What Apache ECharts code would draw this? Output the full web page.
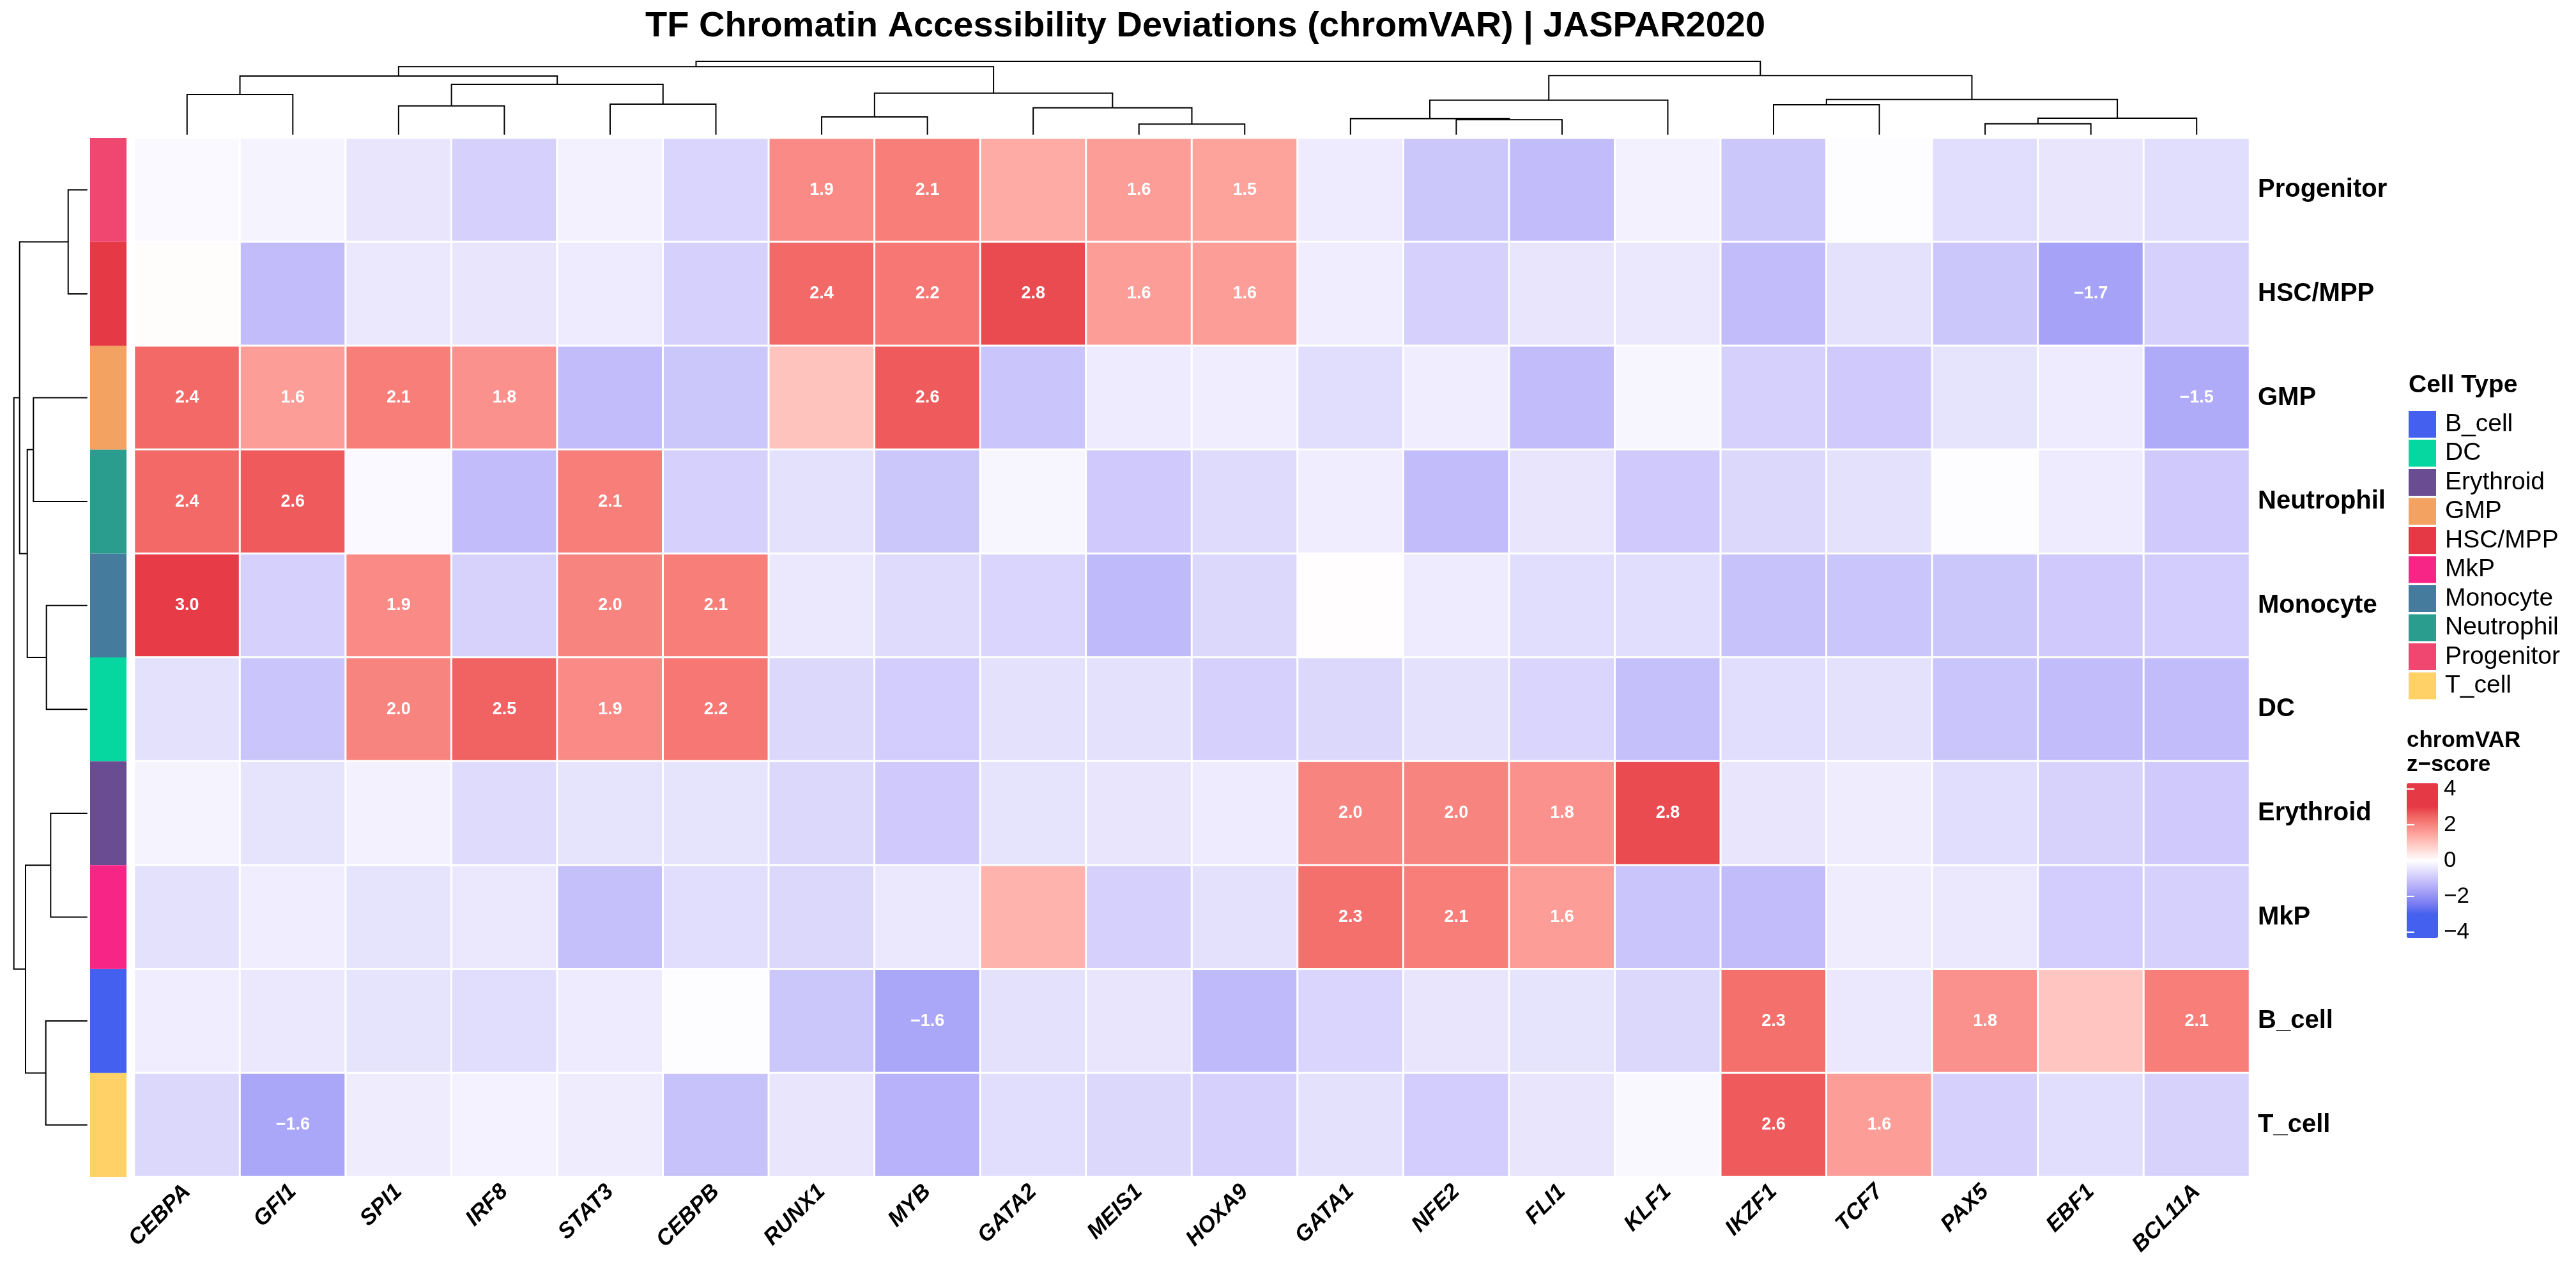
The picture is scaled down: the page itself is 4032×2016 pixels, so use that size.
<!DOCTYPE html>
<html>
<head>
<meta charset="utf-8">
<title>TF Chromatin Accessibility Deviations</title>
<script src="https://cdn.jsdelivr.net/npm/echarts@6/dist/echarts.min.js"></script>
<style>
  html, body { margin: 0; padding: 0; background: #fff; }
  #chart { width: 4032px; height: 2016px; }
</style>
</head>
<body>
<div id="chart"></div>
<script>
// column order (after clustering) and row order
const tfNames = ['CEBPA', 'GFI1', 'SPI1', 'IRF8', 'STAT3', 'CEBPB', 'RUNX1', 'MYB', 'GATA2', 'MEIS1',
                 'HOXA9', 'GATA1', 'NFE2', 'FLI1', 'KLF1', 'IKZF1', 'TCF7', 'PAX5', 'EBF1', 'BCL11A'];
const cellRows = ['Progenitor', 'HSC/MPP', 'GMP', 'Neutrophil', 'Monocyte', 'DC', 'Erythroid', 'MkP', 'B_cell', 'T_cell'];

// chromVAR z-scores, one array per cell type, same order as tfNames
const progenitor = [-0.1, -0.2, -0.45, -0.85, -0.25, -0.75, 1.9, 2.1, 1.38, 1.6, 1.52, -0.35, -1.0, -1.2, -0.25, -1.0, -0.05, -0.6, -0.45, -0.6];
const hscMpp     = [0.05, -1.2, -0.4, -0.45, -0.35, -0.85, 2.4, 2.2, 2.8, 1.6, 1.6, -0.3, -0.85, -0.45, -0.4, -1.2, -0.55, -1.0, -1.7, -0.85];
const gmp        = [2.4, 1.6, 2.1, 1.8, -1.2, -1.0, 1.0, 2.6, -1.05, -0.35, -0.3, -0.6, -0.3, -1.2, -0.15, -0.85, -0.95, -0.5, -0.35, -1.52];
const neutrophil = [2.4, 2.6, -0.1, -1.2, 2.1, -0.85, -0.55, -1.0, -0.15, -0.95, -0.65, -0.3, -1.2, -0.45, -0.95, -0.7, -0.55, -0.05, -0.35, -0.95];
const monocyte   = [3.0, -0.85, 1.9, -0.8, 2.0, 2.1, -0.4, -0.65, -0.75, -1.25, -0.7, 0.03, -0.35, -0.6, -0.6, -1.1, -1.05, -1.0, -0.95, -0.9];
const dc         = [-0.55, -1.05, 2.0, 2.5, 1.9, 2.2, -0.7, -0.9, -0.55, -0.55, -0.85, -0.7, -0.55, -0.75, -1.15, -0.6, -0.55, -1.05, -1.2, -1.2];
const erythroid  = [-0.2, -0.5, -0.25, -0.65, -0.5, -0.5, -0.7, -0.95, -0.5, -0.45, -0.35, 2.0, 2.0, 1.8, 2.8, -0.45, -0.33, -0.6, -0.8, -0.95];
const mkp        = [-0.55, -0.3, -0.5, -0.4, -1.15, -0.6, -0.7, -0.4, 1.25, -0.85, -0.55, 2.3, 2.1, 1.6, -1.05, -1.2, -0.33, -0.4, -0.9, -0.85];
const bCell      = [-0.3, -0.4, -0.5, -0.6, -0.35, -0.03, -1.0, -1.6, -0.55, -0.45, -1.25, -0.75, -0.45, -0.5, -0.7, 2.3, -0.4, 1.8, 0.95, 2.1];
const tCell      = [-0.7, -1.6, -0.33, -0.22, -0.33, -1.1, -0.45, -1.4, -0.6, -0.7, -0.85, -0.55, -0.9, -0.45, -0.12, 2.6, 1.6, -0.85, -0.6, -0.8];
const zRows = [progenitor, hscMpp, gmp, neutrophil, monocyte, dc, erythroid, mkp, bCell, tCell];

// hclust-style merges: negative = leaf (1-based display position), positive = earlier merge; third = height
const colMerges = [
  [-1, -2, 6.27], [-3, -4, 4.50], [-5, -6, 4.77], [2, 3, 7.87], [1, 4, 9.17],
  [-7, -8, 2.77], [-10, -11, 1.64], [-9, 7, 4.20], [6, 8, 6.50], [5, 9, 10.64],
  [-13, -14, 2.34], [-12, 11, 2.50], [12, -15, 5.40], [-16, -17, 4.67], [-18, -19, 1.70],
  [15, -20, 2.57], [14, 16, 5.50], [13, 17, 9.24], [10, 18, 11.47]
];
const rowMerges = [
  [-1, -2, 3.00], [-3, -4, 8.44], [-5, -6, 6.40], [2, 3, 9.40], [1, 4, 10.60],
  [-7, -8, 5.74], [-9, -10, 6.50], [6, 7, 9.67], [5, 8, 11.50]
];

// annotation legend
const legendOrder = ['B_cell', 'DC', 'Erythroid', 'GMP', 'HSC/MPP', 'MkP', 'Monocyte', 'Neutrophil', 'Progenitor', 'T_cell'];
const cellColors = {
  'B_cell': '#4361EE', 'DC': '#06D6A0', 'Erythroid': '#6A4C93', 'GMP': '#F4A261', 'HSC/MPP': '#E63946',
  'MkP': '#F72585', 'Monocyte': '#457B9D', 'Neutrophil': '#2A9D8F', 'Progenitor': '#EF476F', 'T_cell': '#FFD166'
};
const scaleTicks = [-4, -2, 0, 2, 4];

const FONT = "'Liberation Sans', Arial, sans-serif";

// ---- colour ramp in LAB space (-3 blue, 0 white, 3 red) ----
function toLin(c) { c /= 255; return c <= 0.04045 ? c / 12.92 : Math.pow((c + 0.055) / 1.055, 2.4); }
function fromLin(c) {
  c = c <= 0.0031308 ? 12.92 * c : 1.055 * Math.pow(c, 1 / 2.4) - 0.055;
  return Math.round(Math.max(0, Math.min(1, c)) * 255);
}
function hexToLab(hex) {
  const r = toLin(parseInt(hex.substr(1, 2), 16));
  const g = toLin(parseInt(hex.substr(3, 2), 16));
  const b = toLin(parseInt(hex.substr(5, 2), 16));
  const X = (0.4124 * r + 0.3576 * g + 0.1805 * b) / 0.95047;
  const Y = (0.2126 * r + 0.7152 * g + 0.0722 * b);
  const Z = (0.0193 * r + 0.1192 * g + 0.9505 * b) / 1.08883;
  const f = t => t > 0.008856 ? Math.cbrt(t) : 7.787 * t + 16 / 116;
  return [116 * f(Y) - 16, 500 * (f(X) - f(Y)), 200 * (f(Y) - f(Z))];
}
function labToRgb(L, a, b) {
  const fy = (L + 16) / 116, fx = fy + a / 500, fz = fy - b / 200;
  const fi = t => t > 0.206893 ? t * t * t : (t - 16 / 116) / 7.787;
  const X = fi(fx) * 0.95047, Y = fi(fy), Z = fi(fz) * 1.08883;
  const r = 3.2406 * X - 1.5372 * Y - 0.4986 * Z;
  const g = -0.9689 * X + 1.8758 * Y + 0.0415 * Z;
  const bb = 0.0557 * X - 0.2040 * Y + 1.0570 * Z;
  return 'rgb(' + fromLin(r) + ',' + fromLin(g) + ',' + fromLin(bb) + ')';
}
const labLow = hexToLab('#4361EE'), labMid = hexToLab('#FFFFFF'), labHigh = hexToLab('#E63946');
function rampColor(v) {
  v = Math.max(-3, Math.min(3, v));
  const t = Math.abs(v) / 3, end = v < 0 ? labLow : labHigh;
  return labToRgb(labMid[0] + (end[0] - labMid[0]) * t, labMid[1] + (end[1] - labMid[1]) * t, labMid[2] + (end[2] - labMid[2]) * t);
}
const vmMin = -4.32, vmMax = 4.32;
const rampStops = [];
for (let i = 0; i <= 108; i++) rampStops.push(rampColor(vmMin + (vmMax - vmMin) * i / 108));

// ---- dendrogram segments from merges ----
function dendroSegments(merges) {
  const pos = [], hgt = [], segs = [];
  merges.forEach(function (m, k) {
    const pa = m[0] < 0 ? -m[0] - 0.5 : pos[m[0] - 1];
    const ha = m[0] < 0 ? 0 : hgt[m[0] - 1];
    const pb = m[1] < 0 ? -m[1] - 0.5 : pos[m[1] - 1];
    const hb = m[1] < 0 ? 0 : hgt[m[1] - 1];
    pos[k] = (pa + pb) / 2;
    hgt[k] = m[2];
    segs.push([[pa, ha], [pa, m[2]], [pb, m[2]], [pb, hb]]);
  });
  return segs;
}
const colSegs = dendroSegments(colMerges).map(s => ({ coords: s }));
const rowSegs = dendroSegments(rowMerges).map(s => ({ coords: s.map(p => [p[1], p[0]]) }));

const heatData = [];
zRows.forEach(function (vals, r) {
  vals.forEach(function (v, c) { heatData.push([c, r, v]); });
});

const annSeries = legendOrder.map(function (name) {
  return {
    name: name,
    type: 'bar',
    xAxisIndex: 1,
    yAxisIndex: 1,
    stack: 'ann',
    barWidth: '100%',
    silent: true,
    itemStyle: { color: cellColors[name] },
    data: cellRows.map(r => r === name ? 1 : '-')
  };
});

const minusFmt = v => (v < 0 ? '\u2212' : '') + Math.abs(v);

const chart = echarts.init(document.getElementById('chart'));
chart.setOption({
  backgroundColor: '#fff',
  animation: false,
  textStyle: { fontFamily: FONT },
  title: [
    { text: 'TF Chromatin Accessibility Deviations (chromVAR) | JASPAR2020', left: 1010, top: 14, padding: 0,
      textStyle: { fontSize: 56, fontWeight: 'bold', color: '#000', fontFamily: FONT } },
    { text: 'Cell Type', left: 3770, top: 584, padding: 0,
      textStyle: { fontSize: 39, fontWeight: 'bold', color: '#000', fontFamily: FONT } },
    { text: 'chromVAR\nz\u2212score', left: 3767, top: 1140, padding: 0,
      textStyle: { fontSize: 35, fontWeight: 'bold', color: '#000', lineHeight: 38, fontFamily: FONT } }
  ],
  legend: {
    data: legendOrder, orient: 'vertical', left: 3770, top: 643, padding: 0,
    itemWidth: 43, itemHeight: 42, itemGap: 3.5, icon: 'rect', selectedMode: false,
    textStyle: { fontSize: 39, color: '#000', lineHeight: 42, fontFamily: FONT, padding: [0, 0, 0, 9] }
  },
  visualMap: {
    type: 'continuous', seriesIndex: 0, dimension: 2, min: vmMin, max: vmMax,
    left: 3767, top: 1226, itemWidth: 49, itemHeight: 242, padding: 0,
    calculable: false, hoverLink: false, inRange: { color: rampStops }
  },
  grid: [
    { left: 210, top: 216, width: 3311, height: 1626 },
    { left: 141, top: 216, width: 57, height: 1626 },
    { left: 210, top: 96, width: 3311, height: 114.7 },
    { left: 21.7, top: 216, width: 115, height: 1626 },
    { left: 3767, top: 1235, width: 49, height: 224 }
  ],
  xAxis: [
    { type: 'category', gridIndex: 0, data: tfNames, position: 'bottom',
      axisLine: { show: false }, axisTick: { show: false }, splitLine: { show: false },
      axisLabel: { interval: 0, rotate: 45, margin: 18, fontSize: 35, fontWeight: 'bold', fontStyle: 'italic', color: '#000', fontFamily: FONT } },
    { type: 'value', gridIndex: 1, min: 0, max: 1, show: false },
    { type: 'value', gridIndex: 2, min: 0, max: tfNames.length, show: false },
    { type: 'value', gridIndex: 3, min: 0, max: 11.5, inverse: true, show: false },
    { type: 'value', gridIndex: 4, min: 0, max: 1, show: false }
  ],
  yAxis: [
    { type: 'category', gridIndex: 0, data: cellRows, inverse: true, position: 'right',
      axisLine: { show: false }, axisTick: { show: false }, splitLine: { show: false },
      axisLabel: { margin: 13, fontSize: 40, fontWeight: 'bold', color: '#000', fontFamily: FONT } },
    { type: 'category', gridIndex: 1, data: cellRows, inverse: true, show: false },
    { type: 'value', gridIndex: 2, min: 0, max: 11.47, show: false },
    { type: 'value', gridIndex: 3, min: 0, max: cellRows.length, inverse: true, show: false },
    { type: 'value', gridIndex: 4, min: scaleTicks[0], max: scaleTicks[scaleTicks.length - 1], interval: 2, position: 'right', z: 10,
      axisLine: { show: false }, splitLine: { show: false },
      axisTick: { show: true, inside: true, length: 12, lineStyle: { color: '#fff', width: 2 } },
      axisLabel: { margin: 9, fontSize: 35, color: '#000', fontFamily: FONT, formatter: minusFmt } },
    { type: 'value', gridIndex: 4, min: scaleTicks[0], max: scaleTicks[scaleTicks.length - 1], interval: 2, position: 'left', z: 10,
      axisLine: { show: false }, splitLine: { show: false }, axisLabel: { show: false },
      axisTick: { show: true, inside: true, length: 12, lineStyle: { color: '#fff', width: 2 } } }
  ],
  series: [
    {
      type: 'heatmap', xAxisIndex: 0, yAxisIndex: 0, data: heatData, silent: true,
      itemStyle: { borderColor: '#fff', borderWidth: 3 },
      label: {
        show: true, color: '#fff', fontSize: 27, fontWeight: 'bold', fontFamily: FONT,
        formatter: p => Math.abs(p.value[2]) >= 1.5 ? (p.value[2] < 0 ? '\u2212' : '') + Math.abs(p.value[2]).toFixed(1) : ''
      }
    }
  ].concat(annSeries).concat([
    { type: 'lines', coordinateSystem: 'cartesian2d', xAxisIndex: 2, yAxisIndex: 2, polyline: true, silent: true, clip: false,
      lineStyle: { color: '#000', width: 2, opacity: 1 }, data: colSegs },
    { type: 'lines', coordinateSystem: 'cartesian2d', xAxisIndex: 3, yAxisIndex: 3, polyline: true, silent: true, clip: false,
      lineStyle: { color: '#000', width: 2, opacity: 1 }, data: rowSegs }
  ])
});
</script>
</body>
</html>
